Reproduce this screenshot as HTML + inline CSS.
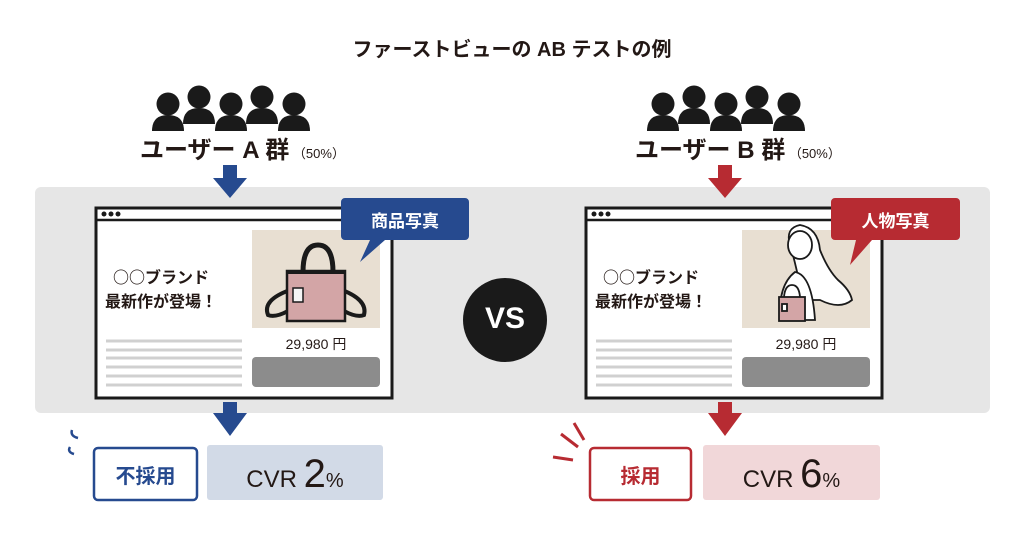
<!DOCTYPE html>
<html><head><meta charset="utf-8"><style>
*{margin:0;padding:0;box-sizing:border-box}
body{width:1024px;height:538px;background:#fff;position:relative;overflow:hidden;font-family:"Liberation Sans","Noto Sans CJK JP",sans-serif;color:#231815}
.a{position:absolute}
.t{white-space:nowrap;font-weight:bold}
.j{font-family:"Noto Sans CJK JP",sans-serif}
</style></head><body>
<svg class="a" style="left:0;top:0" width="1024" height="538">
<defs>
<g id="p"><circle cx="0" cy="-10" r="11.5"/><path d="M-16 17 Q-16 1 0 1 Q16 1 16 17 Z"/></g>
</defs>
<rect x="35" y="187" width="955" height="226" rx="6" fill="#e6e6e6"/>
<g fill="#1a1a1a">
<use href="#p" x="168" y="114"/><use href="#p" x="199" y="107"/><use href="#p" x="231" y="114"/><use href="#p" x="262" y="107"/><use href="#p" x="294" y="114"/>
<use href="#p" x="663" y="114"/><use href="#p" x="694" y="107"/><use href="#p" x="726" y="114"/><use href="#p" x="757" y="107"/><use href="#p" x="789" y="114"/>
</g>
<path d="M223 165h14v13h10l-17 20l-17-20h10z" fill="#264a8f"/>
<path d="M223 402h14v11h10l-17 23l-17-23h10z" fill="#264a8f"/>
<path d="M718 165h14v13h10l-17 20l-17-20h10z" fill="#b72b32"/>
<path d="M718 402h14v11h10l-17 23l-17-23h10z" fill="#b72b32"/>
<g id="br">
<rect x="96" y="208" width="296" height="190" fill="#fff" stroke="#1a1a1a" stroke-width="3"/>
<line x1="96" y1="220" x2="392" y2="220" stroke="#1a1a1a" stroke-width="2.5"/>
<circle cx="104" cy="214" r="2.5" fill="#1a1a1a"/><circle cx="111" cy="214" r="2.5" fill="#1a1a1a"/><circle cx="118" cy="214" r="2.5" fill="#1a1a1a"/>
<rect x="252" y="230" width="128" height="98" fill="#e8dfd2"/>
<rect x="252" y="357" width="128" height="30" rx="4" fill="#8c8c8c"/>
<g stroke="#d0d0d0" stroke-width="3"><line x1="106" y1="341" x2="242" y2="341"/><line x1="106" y1="350" x2="242" y2="350"/><line x1="106" y1="358" x2="242" y2="358"/><line x1="106" y1="367" x2="242" y2="367"/><line x1="106" y1="376" x2="242" y2="376"/><line x1="106" y1="385" x2="242" y2="385"/></g>
</g>
<use href="#br" x="490"/>
<g stroke="#1a1a1a" stroke-width="2.5">
<path d="M303 272 Q303 245 318 245 Q333 245 333 272" fill="none" stroke-width="5"/>
<path d="M290 290 Q262 300 268 315 Q275 318 288 311" fill="none" stroke-width="4"/>
<path d="M342 290 Q368 300 364 315 Q357 318 344 311" fill="none" stroke-width="4"/>
<rect x="287" y="271" width="58" height="50" fill="#d3a5a6"/>
<line x1="287" y1="272" x2="345" y2="272" stroke-width="4"/>
<rect x="293" y="288" width="10" height="14" fill="#f5f5f5" stroke-width="1.5"/>
</g>
<g stroke="#1a1a1a" stroke-width="1.8" fill="#fff">
<path d="M803 300 Q795 260 790 245 Q785 228 800 225 Q818 228 820 250 Q828 270 838 280 Q850 290 852 300 Q840 310 820 300 Z"/>
<ellipse cx="800" cy="245" rx="12" ry="14"/>
<path d="M780 320 Q778 285 795 272 Q812 275 815 320 Z"/>
<rect x="779" y="297" width="26" height="24" fill="#d3a5a6"/>
<path d="M784 297 Q785 285 792 285 Q799 285 800 297" fill="none"/>
<rect x="782" y="304" width="5" height="7"/>
</g>
<path d="M345 198h120a4 4 0 0 1 4 4v34a4 4 0 0 1-4 4h-80l-25 22l10-22h-25a4 4 0 0 1-4-4v-34a4 4 0 0 1 4-4z" fill="#264a8f"/>
<path d="M835 198h121a4 4 0 0 1 4 4v34a4 4 0 0 1-4 4h-84l-22 25l6-25h-21a4 4 0 0 1-4-4v-34a4 4 0 0 1 4-4z" fill="#b72b32"/>
<circle cx="505" cy="320" r="42" fill="#1a1a1a"/>
<rect x="94" y="448" width="103" height="52" rx="4" fill="#fff" stroke="#264a8f" stroke-width="2.5"/>
<rect x="207" y="445" width="176" height="55" rx="3" fill="#d2dae7"/>
<rect x="590" y="448" width="101" height="52" rx="4" fill="#fff" stroke="#b72b32" stroke-width="2.5"/>
<rect x="703" y="445" width="177" height="55" rx="3" fill="#f1d7d9"/>
<g stroke="#264a8f" stroke-width="2.5" fill="none"><path d="M72 430 Q70 436 78 438"/><path d="M70 447 Q67 452 74 454"/></g>
<g stroke="#b72b32" stroke-width="3"><line x1="574" y1="423" x2="584" y2="440"/><line x1="561" y1="434" x2="578" y2="447"/><line x1="553" y1="457" x2="573" y2="460"/></g>
</svg>
<div class="a t" style="left:0;width:1024px;top:33px;text-align:center;font-size:20px">ファーストビューの AB テストの例</div>
<div class="a t" style="left:140px;top:130px;font-size:24px">ユーザー A 群<span style="font-size:13px;font-weight:normal"> （50%）</span></div>
<div class="a t" style="left:635px;top:130px;font-size:24px">ユーザー B 群<span style="font-size:13px;font-weight:normal"> （50%）</span></div>
<div class="a t" style="left:345px;top:207px;width:120px;text-align:center;font-size:17px;color:#fff">商品写真</div>
<div class="a t" style="left:835px;top:207px;width:121px;text-align:center;font-size:17px;color:#fff">人物写真</div>
<div class="a t j" style="left:105px;top:264px;font-size:16px;line-height:24px;text-align:center">○○ブランド<br>最新作が登場！</div>
<div class="a t j" style="left:595px;top:264px;font-size:16px;line-height:24px;text-align:center">○○ブランド<br>最新作が登場！</div>
<div class="a" style="left:252px;top:334px;width:128px;text-align:center;font-size:14px">29,980 円</div>
<div class="a" style="left:742px;top:334px;width:128px;text-align:center;font-size:14px">29,980 円</div>
<div class="a t" style="left:463px;top:302px;width:84px;text-align:center;font-size:30px;color:#fff">VS</div>
<div class="a t" style="left:94px;top:460px;width:103px;text-align:center;font-size:20px;color:#264a8f">不採用</div>
<div class="a t" style="left:590px;top:460px;width:101px;text-align:center;font-size:20px;color:#b72b32">採用</div>
<div class="a" style="left:207px;top:452px;width:176px;text-align:center;font-size:24px;line-height:44px">CVR <span style="font-size:40px">2</span><span style="font-size:20px">%</span></div>
<div class="a" style="left:703px;top:452px;width:177px;text-align:center;font-size:24px;line-height:44px">CVR <span style="font-size:40px">6</span><span style="font-size:20px">%</span></div>
</body></html>
